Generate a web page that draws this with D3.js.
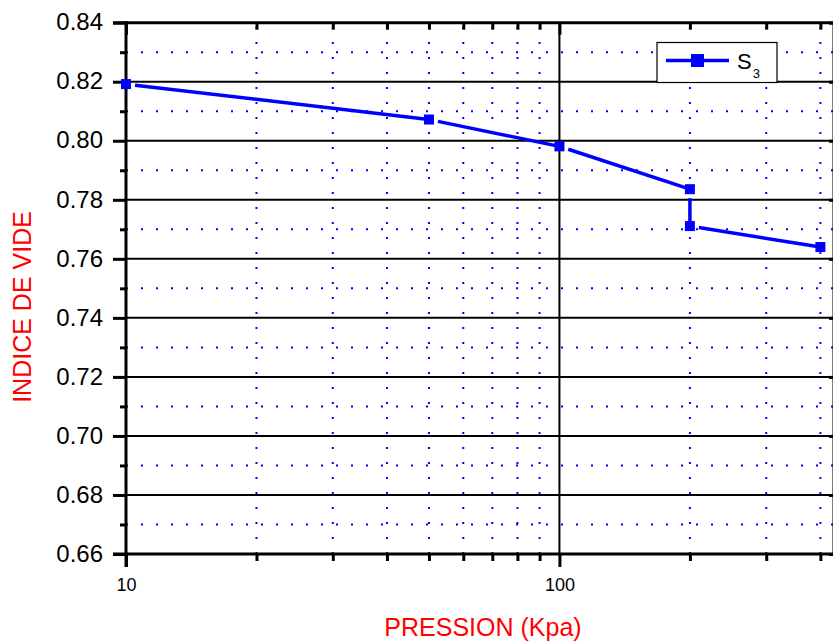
<!DOCTYPE html>
<html>
<head>
<meta charset="utf-8">
<script src="https://cdn.jsdelivr.net/npm/d3@7/dist/d3.min.js"></script>
<style>
  html, body { margin: 0; padding: 0; background: #fff; }
  svg { display: block; font-family: "Liberation Sans", Arial, sans-serif; }
</style>
</head>
<body>
<svg id="chart" width="833" height="643"></svg>
<script>
// Consolidation test: void ratio versus applied pressure (log scale)
const pressure = [10, 50, 100, 200, 200, 400];
const voidRatio = [0.8192, 0.8072, 0.7981, 0.7836, 0.7711, 0.7640];
const seriesName = "S";
const seriesSub = "3";

const xDomain = [10, 430];
const xMajorTicks = [10, 100];
const xMinorTicks = [20, 30, 40, 50, 60, 70, 80, 90, 200, 300, 400];
const yDomain = [0.66, 0.84];
const yMajorTicks = [0.66, 0.68, 0.70, 0.72, 0.74, 0.76, 0.78, 0.80, 0.82, 0.84];
const yMinorTicks = [0.67, 0.69, 0.71, 0.73, 0.75, 0.77, 0.79, 0.81, 0.83];

const xTitle = "PRESSION (Kpa)";
const yTitle = "INDICE DE VIDE";

const pLeft = 126, pRight = 834, pTop = 22.7, pBottom = 554;
const blue = "#0000ff";

const svg = d3.select("#chart");
const x = d3.scaleLog().domain(xDomain).range([pLeft, pRight]);
const y = d3.scaleLinear().domain(yDomain).range([pBottom, pTop]);

// dotted minor grid
const minorGrid = svg.append("g")
  .attr("stroke", blue).attr("stroke-width", 2).attr("stroke-dasharray", "2,13");
minorGrid.selectAll("line.h").data(yMinorTicks).join("line").attr("class", "h")
  .attr("x1", pLeft).attr("x2", pRight)
  .attr("y1", d => y(d)).attr("y2", d => y(d));
minorGrid.selectAll("line.v").data(xMinorTicks).join("line").attr("class", "v")
  .attr("x1", d => x(d)).attr("x2", d => x(d))
  .attr("y1", pBottom).attr("y2", pTop);

// solid major grid
const majorGrid = svg.append("g").attr("stroke", "#000").attr("stroke-width", 2);
majorGrid.selectAll("line.h").data(yMajorTicks.slice(1, -1)).join("line").attr("class", "h")
  .attr("x1", pLeft).attr("x2", pRight)
  .attr("y1", d => y(d)).attr("y2", d => y(d));
majorGrid.selectAll("line.v").data(xMajorTicks.slice(1)).join("line").attr("class", "v")
  .attr("x1", d => x(d)).attr("x2", d => x(d))
  .attr("y1", pBottom).attr("y2", pTop);

// axes
const axW = 3;
function styleAxis(g) {
  g.select(".domain").remove();
  g.selectAll(".tick line").attr("stroke", "#000").attr("stroke-width", axW);
}

// bottom axis: major + minor ticks, labels for majors
svg.append("g").attr("transform", `translate(0,${pBottom})`)
  .call(d3.axisBottom(x).tickValues(xMajorTicks).tickSize(13).tickPadding(11)
    .tickFormat(d3.format("d")))
  .call(styleAxis)
  .call(g => g.selectAll("text").attr("font-size", 18).attr("fill", "#000")
    .attr("font-family", "Liberation Sans, Arial, sans-serif"));
svg.append("g").attr("transform", `translate(0,${pBottom})`)
  .call(d3.axisBottom(x).tickValues(xMinorTicks).tickSize(7).tickFormat(""))
  .call(styleAxis);

// top axis: inward ticks
svg.append("g").attr("transform", `translate(0,${pTop})`)
  .call(d3.axisBottom(x).tickValues(xMinorTicks).tickSize(7).tickFormat(""))
  .call(styleAxis);
svg.append("g").attr("transform", `translate(0,${pTop})`)
  .call(d3.axisBottom(x).tickValues(xMajorTicks).tickSize(12).tickFormat(""))
  .call(styleAxis);

// left axis
svg.append("g").attr("transform", `translate(${pLeft},0)`)
  .call(d3.axisLeft(y).tickValues(yMajorTicks).tickSize(13).tickPadding(10)
    .tickFormat(d3.format(".2f")))
  .call(styleAxis)
  .call(g => g.selectAll("text").attr("font-size", 24).attr("fill", "#000")
    .attr("dy", "0.3em")
    .attr("font-family", "Liberation Sans, Arial, sans-serif"));
svg.append("g").attr("transform", `translate(${pLeft},0)`)
  .call(d3.axisLeft(y).tickValues(yMinorTicks).tickSize(6).tickFormat(""))
  .call(styleAxis);

// right axis: inward ticks
svg.append("g").attr("transform", `translate(${pRight},0)`)
  .call(d3.axisLeft(y).tickValues(yMajorTicks).tickSize(5).tickFormat(""))
  .call(styleAxis);

// frame lines
svg.append("line").attr("x1", pLeft).attr("x2", pLeft).attr("y1", pTop - 1.5).attr("y2", pBottom + 13)
  .attr("stroke", "#000").attr("stroke-width", axW);
svg.append("line").attr("x1", pLeft - 13).attr("x2", pRight).attr("y1", pBottom).attr("y2", pBottom)
  .attr("stroke", "#000").attr("stroke-width", axW);
svg.append("line").attr("x1", pLeft - 13).attr("x2", pRight).attr("y1", pTop).attr("y2", pTop)
  .attr("stroke", "#000").attr("stroke-width", axW);
svg.append("line").attr("x1", pRight).attr("x2", pRight).attr("y1", pTop).attr("y2", pBottom)
  .attr("stroke", "#000").attr("stroke-width", axW);

// titles
svg.append("text").attr("x", 483).attr("y", 636).attr("text-anchor", "middle")
  .attr("font-size", 25).attr("fill", "#ff0000").text(xTitle);
svg.append("text").attr("transform", "translate(31,307) rotate(-90)")
  .attr("text-anchor", "middle").attr("font-size", 25).attr("fill", "#ff0000").text(yTitle);

// data: each segment starts a little past the marker it leaves
const pts = pressure.map((p, i) => [x(p), y(voidRatio[i])]);
const mk = 10, gap = 4;
const segs = d3.pairs(pts).map(([a, b]) => {
  const dx = b[0] - a[0], dy = b[1] - a[1];
  const len = Math.hypot(dx, dy);
  const ux = dx / len, uy = dy / len;
  const t = Math.max(Math.abs(ux), Math.abs(uy));
  const o = (mk / 2) / t + gap;
  return [[a[0] + ux * o, a[1] + uy * o], [b[0], b[1]]];
});
svg.append("g").selectAll("line").data(segs).join("line")
  .attr("x1", d => d[0][0]).attr("y1", d => d[0][1])
  .attr("x2", d => d[1][0]).attr("y2", d => d[1][1])
  .attr("stroke", blue).attr("stroke-width", 3.5);
svg.append("g").selectAll("rect").data(pts).join("rect")
  .attr("x", d => d[0] - mk / 2).attr("y", d => d[1] - mk / 2)
  .attr("width", mk).attr("height", mk).attr("fill", blue);

// legend
const lg = svg.append("g");
lg.append("rect").attr("x", 657).attr("y", 42.5).attr("width", 120).attr("height", 40)
  .attr("fill", "#fff").attr("stroke", "#000").attr("stroke-width", 1.2);
lg.append("line").attr("x1", 666).attr("x2", 729).attr("y1", 60.5).attr("y2", 60.5)
  .attr("stroke", blue).attr("stroke-width", 3.5);
lg.append("rect").attr("x", 691).attr("y", 54).attr("width", 13).attr("height", 13).attr("fill", blue);
const lt = lg.append("text").attr("x", 737).attr("y", 69).attr("font-size", 22).attr("fill", "#000");
lt.append("tspan").text(seriesName);
lt.append("tspan").attr("font-size", 13).attr("dy", 9).attr("dx", 1).text(seriesSub);
</script>
</body>
</html>
